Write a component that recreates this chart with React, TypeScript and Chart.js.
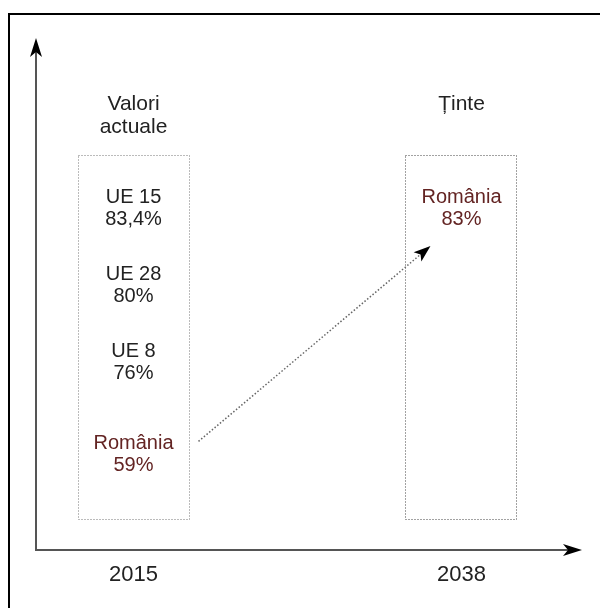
import React, { useEffect, useRef } from 'react';
import { Chart, registerables } from 'chart.js';

Chart.register(...registerables);

// ---- data ----
const years = ['2015', '2038'];
const headers = [['Valori', 'actuale'], ['Ținte']];
const currentGroups = ['UE 15', 'UE 28', 'UE 8', 'România'];
const currentValues = [83.4, 80, 76, 59];
const targetGroups = ['România'];
const targetValues = [83];

// ---- layout (row slots on the y scale) ----
const currentSlots = [0, 1, 2, 3.2];
const targetSlots = [0];
const BOX_TOP = -0.662;
const BOX_BOTTOM = 4.065;

const TEXT = '#222222';
const HIGHLIGHT = '#632423';
const FONT = '"Liberation Sans", Arial, sans-serif';

const fmt = (v: number) => String(v).replace('.', ',') + '%';
const colorFor = (g: string) => (g === 'România' ? HIGHLIGHT : TEXT);

function arrowHead(ctx: CanvasRenderingContext2D, tx: number, ty: number, ang: number, len: number, hw: number, notch: number) {
  ctx.save();
  ctx.translate(tx, ty);
  ctx.rotate(ang);
  ctx.beginPath();
  ctx.moveTo(0, 0);
  ctx.lineTo(-len, -hw);
  ctx.lineTo(-len + notch, 0);
  ctx.lineTo(-len, hw);
  ctx.closePath();
  ctx.fillStyle = '#000';
  ctx.fill();
  ctx.restore();
}

const diagramPlugin = {
  id: 'diagram',
  afterDatasetsDraw(chart: any) {
    const { ctx, chartArea, scales } = chart;
    const { left, right, top, bottom } = chartArea;
    const xs = scales.x;
    const ys = scales.y;
    ctx.save();

    // outer frame (top + left edges visible)
    ctx.strokeStyle = '#000';
    ctx.lineWidth = 2;
    ctx.beginPath();
    ctx.moveTo(9, chart.height + 5);
    ctx.lineTo(9, 14);
    ctx.lineTo(chart.width + 5, 14);
    ctx.stroke();

    // axes with arrows
    ctx.strokeStyle = '#555';
    ctx.lineWidth = 2;
    ctx.lineCap = 'square';
    ctx.beginPath();
    ctx.moveTo(left, top + 15);
    ctx.lineTo(left, bottom);
    ctx.lineTo(right - 15, bottom);
    ctx.stroke();
    ctx.lineCap = 'butt';
    arrowHead(ctx, left, top, -Math.PI / 2, 19, 6, 5);
    arrowHead(ctx, right, bottom, 0, 19, 6, 5);

    // dotted boxes + headers
    const by0 = Math.round(ys.getPixelForValue(BOX_TOP)) + 0.5;
    const by1 = Math.round(ys.getPixelForValue(BOX_BOTTOM)) + 0.5;
    years.forEach((_, i) => {
      const cx = xs.getPixelForValue(i);
      const bx0 = Math.round(cx - 56) + 0.5;
      const bx1 = Math.round(cx + 55) + 0.5;
      ctx.save();
      ctx.strokeStyle = i === 0 ? '#777' : '#444';
      ctx.lineWidth = 1;
      ctx.setLineDash([1, 2]);
      ctx.strokeRect(bx0, by0, bx1 - bx0, by1 - by0);
      ctx.restore();

      ctx.fillStyle = TEXT;
      ctx.font = `21px ${FONT}`;
      ctx.textAlign = 'center';
      ctx.textBaseline = 'alphabetic';
      headers[i].forEach((line, k) => {
        ctx.fillText(line, cx, by0 - 46 + k * 23);
      });
    });

    // labels
    const drawLabels = (dsIndex: number, groups: string[], values: number[]) => {
      const meta = chart.getDatasetMeta(dsIndex);
      meta.data.forEach((el: any, i: number) => {
        ctx.fillStyle = colorFor(groups[i]);
        ctx.font = `20px ${FONT}`;
        ctx.textAlign = 'center';
        ctx.textBaseline = 'alphabetic';
        ctx.fillText(groups[i], el.x, el.y - 3);
        ctx.fillText(fmt(values[i]), el.x, el.y + 19);
      });
    };
    drawLabels(0, currentGroups, currentValues);
    drawLabels(1, targetGroups, targetValues);

    // dotted arrow from current România to target România
    const src = chart.getDatasetMeta(0).data[currentGroups.indexOf('România')];
    const dst = chart.getDatasetMeta(1).data[targetGroups.indexOf('România')];
    if (src && dst) {
      const sx = src.x + 65, sy = src.y - 11;
      const tx = dst.x - 31, ty = dst.y + 40;
      const ang = Math.atan2(ty - sy, tx - sx);
      const ex = tx - Math.cos(ang) * 12, ey = ty - Math.sin(ang) * 12;
      ctx.save();
      ctx.strokeStyle = '#666';
      ctx.lineWidth = 1.5;
      ctx.setLineDash([1.5, 2]);
      ctx.beginPath();
      ctx.moveTo(sx, sy);
      ctx.lineTo(ex, ey);
      ctx.stroke();
      ctx.restore();
      arrowHead(ctx, tx, ty, ang, 17, 6, 4);
    }
    ctx.restore();
  },
};

export default function App() {
  const ref = useRef<HTMLCanvasElement | null>(null);
  useEffect(() => {
    if (!ref.current) return;
    const chart = new Chart(ref.current, {
      type: 'scatter',
      data: {
        datasets: [
          {
            label: years[0],
            data: currentGroups.map((_, i) => ({ x: 0, y: currentSlots[i] })),
            pointRadius: 0,
            pointHoverRadius: 0,
          },
          {
            label: years[1],
            data: targetGroups.map((_, i) => ({ x: 1, y: targetSlots[i] })),
            pointRadius: 0,
            pointHoverRadius: 0,
          },
        ],
      },
      options: {
        animation: false,
        responsive: false,
        maintainAspectRatio: false,
        layout: { padding: { left: 36, right: 18, top: 38, bottom: 7.6 } },
        plugins: {
          legend: { display: false },
          tooltip: { enabled: false },
          title: { display: false },
        },
        events: [],
        scales: {
          x: {
            type: 'linear',
            min: -0.2973,
            max: 1.3674,
            afterBuildTicks: (scale: any) => {
              scale.ticks = years.map((_, i) => ({ value: i }));
            },
            grid: { display: false, drawTicks: false },
            border: { display: false },
            ticks: {
              autoSkip: false,
              padding: 12,
              color: TEXT,
              font: { family: FONT, size: 22 },
              callback: (_v: any, i: number) => years[i] ?? '',
            },
          },
          y: {
            type: 'linear',
            display: false,
            reverse: true,
            min: -2.182,
            max: 4.4675,
          },
        },
      },
      plugins: [diagramPlugin],
    } as any);
    return () => chart.destroy();
  }, []);
  return (
    <div style={{ position: 'fixed', left: 0, top: 0, width: 600, height: 608, background: '#fff' }}>
      <canvas ref={ref} width={600} height={608} style={{ width: 600, height: 608, display: 'block' }} />
    </div>
  );
}
